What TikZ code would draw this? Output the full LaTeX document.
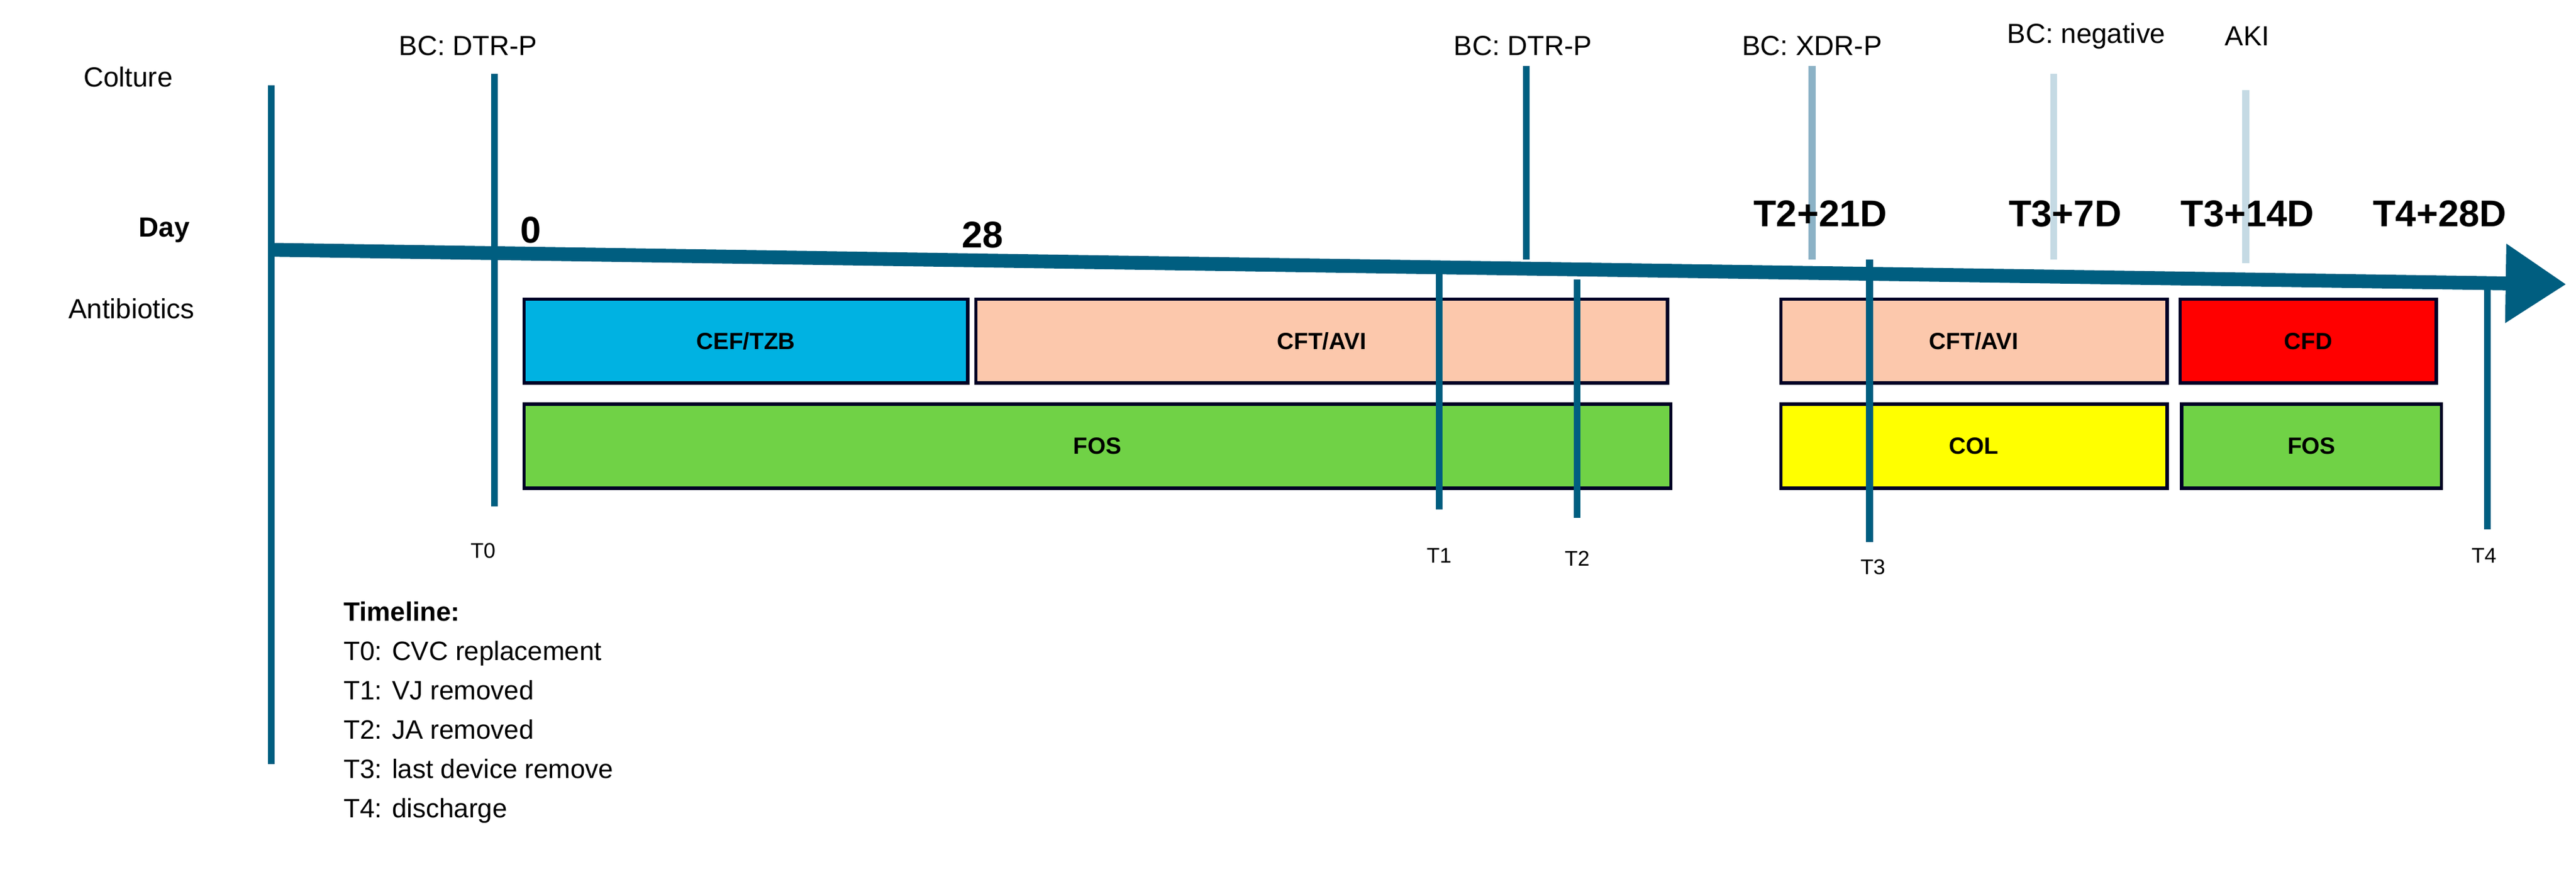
\documentclass[tikz,border=0pt]{standalone}
\usepackage{fontspec}
\setmainfont{Liberation Sans}
\usetikzlibrary{arrows.meta,positioning}
\definecolor{axisteal}{RGB}{0,94,128}
\definecolor{midteal}{RGB}{140,178,198}
\definecolor{paleteal}{RGB}{197,218,228}
\definecolor{cefblue}{RGB}{0,178,226}
\definecolor{peach}{RGB}{252,200,172}
\definecolor{fosgreen}{RGB}{112,210,70}
\definecolor{colyellow}{RGB}{255,255,0}
\definecolor{cfdred}{RGB}{255,0,0}
\newcommand\drugbox[6]{% name, x1, x2, y1, fill, text
  \node[drug,fill=#5,minimum width={(#3-#2)*0.02716cm},anchor=north west] (#1) at (#2,#4) {#6};}

\begin{document}
\begin{tikzpicture}
  [
    x=0.02716cm, y=-0.02716cm,
    mark line/.style = {line width=3.2pt,draw=axisteal},
    time axis/.style = {line width=6.5pt,draw=axisteal,-{Triangle[length=1cm,width=1.25cm]}},
    row name/.style = {font=\fontsize{13}{15}\selectfont},
    culture/.style = {font=\fontsize{13}{15}\selectfont},
    day mark/.style = {font=\fontsize{17.5}{19}\selectfont\bfseries},
    tick name/.style = {font=\fontsize{10}{12}\selectfont},
    drug/.style = {draw=black!85!blue,line width=1.6pt,inner sep=0pt,minimum height=51*0.02716cm,
                   font=\fontsize{11}{13}\selectfont\bfseries},
  ]
  \useasboundingbox (0,0) rectangle (1568,545);

  % row names
  \node[row name] (colture) at (78,47)  {Colture};
  \node[row name,font=\fontsize{13}{15}\selectfont\bfseries] (day) at (100,140) {Day};
  \node[row name] (abx) at (80,188) {Antibiotics};

  % drug boxes
  \drugbox{cef}{318}{588}{181}{cefblue}{CEF/TZB}
  \drugbox{cft1}{593}{1014}{181}{peach}{CFT/AVI}
  \drugbox{fos1}{318}{1016}{245}{fosgreen}{FOS}
  \drugbox{cft2}{1083}{1318}{181}{peach}{CFT/AVI}
  \drugbox{cfd}{1326}{1482}{181}{cfdred}{CFD}
  \drugbox{col}{1083}{1318}{245}{colyellow}{COL}
  \drugbox{fos2}{1327}{1485}{245}{fosgreen}{FOS}

  % culture marks
  \draw[mark line,draw=midteal]  (1103,40) -- (1103,158);
  \draw[mark line,draw=paleteal] (1250,45) -- (1250,158);
  \draw[mark line,draw=paleteal] (1367,55) -- (1367,160);
  \draw[mark line] (929,40) -- (929,158);
  \node[culture] (bc1) at (285,28)  {BC: DTR-P};
  \node[culture] (bc2) at (927,28)  {BC: DTR-P};
  \node[culture] (bc3) at (1103,28) {BC: XDR-P};
  \node[culture] (bc4) at (1270,22) {BC: negative};
  \node[culture] (aki) at (1368,22) {AKI};

  % time axis
  \draw[mark line] (165,52) -- (165,465);
  \coordinate (start) at (165,152);
  \coordinate (tip) at (1562,173);
  \draw[time axis] (start) -- (tip);

  % device times
  \draw[mark line] (301,45) -- (301,308);
  \draw[mark line] (876,165) -- (876,310);
  \draw[mark line] (960,170) -- (960,315);
  \draw[mark line] (1138,158) -- (1138,330);
  \draw[mark line] (1514,170) -- (1514,322);
  \node[tick name] (t0) at (294,335)  {T0};
  \node[tick name] (t1) at (876,338)  {T1};
  \node[tick name] (t2) at (960,340)  {T2};
  \node[tick name] (t3) at (1140,345) {T3};
  \node[tick name] (t4) at (1512,338) {T4};

  % day labels
  \node[day mark] (d0)  at (323,140)  {0};
  \node[day mark] (d28) at (598,143)  {28};
  \node[day mark] (d21) at (1108,130) {T2+21D};
  \node[day mark] (d7)  at (1257,130) {T3+7D};
  \node[day mark] (d14) at (1368,130) {T3+14D};
  \node[day mark] (d28b) at (1485,130) {T4+28D};

  % legend
  \node[anchor=north west,align=left,font=\fontsize{12.5}{18.5}\selectfont,inner sep=0pt] (legend) at (209,366)
    {\textbf{Timeline:}\\T0: CVC replacement\\T1: VJ removed\\T2: JA removed\\T3: last device remove\\T4: discharge};
\end{tikzpicture}
\end{document}
